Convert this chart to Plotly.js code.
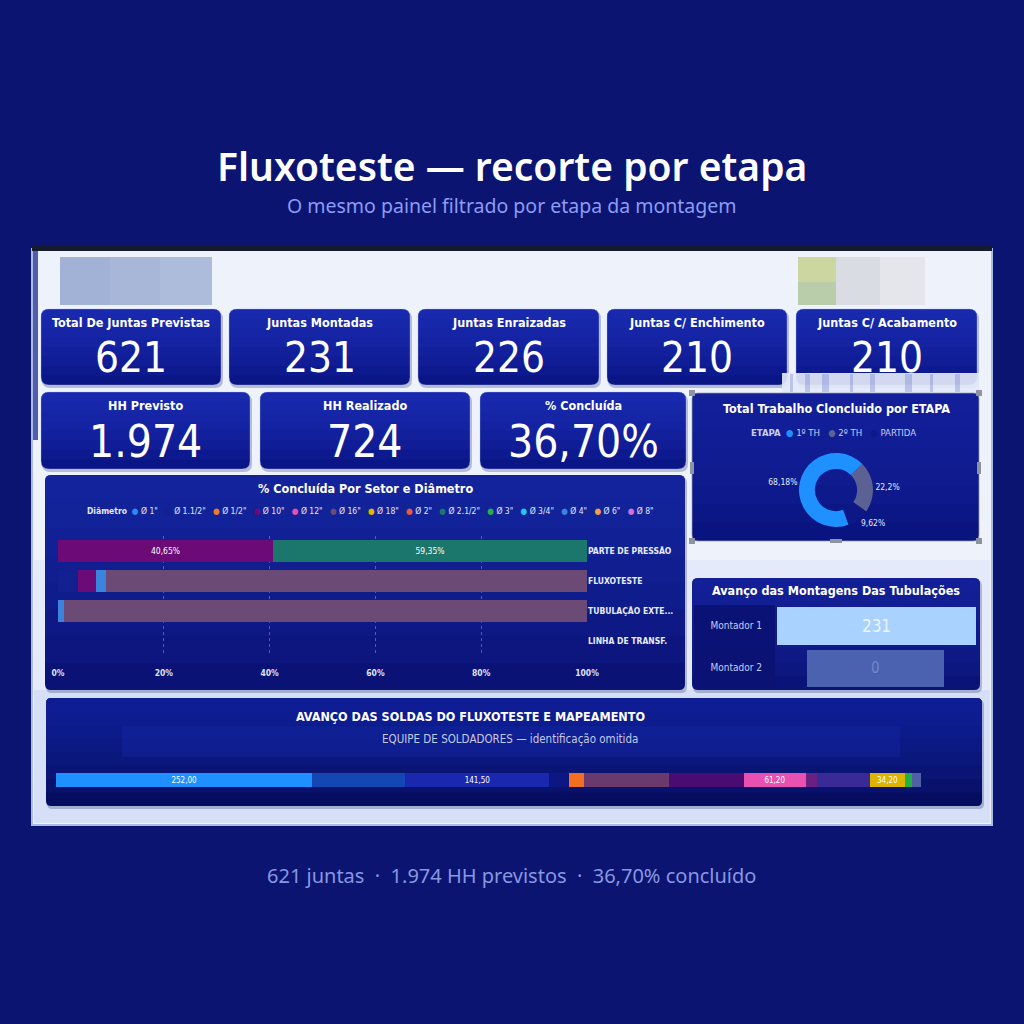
<!DOCTYPE html>
<html><head><meta charset="utf-8">
<script src="https://cdn.plot.ly/plotly-3.0.1.min.js"></script>
<style>html,body{margin:0;padding:0;background:#0c1472;}#chart{width:1024px;height:1024px;}</style>
</head><body><div id="chart"></div>
<script>
// ================= DATA =================
const pageTitle = 'Fluxoteste — recorte por etapa';
const pageSubtitle = 'O mesmo painel filtrado por etapa da montagem';

const kpiRow1Labels = ['Total De Juntas Previstas', 'Juntas Montadas', 'Juntas Enraizadas', 'Juntas C/ Enchimento', 'Juntas C/ Acabamento'];
const kpiRow1Values = ['621', '231', '226', '210', '210'];
const kpiRow2Labels = ['HH Previsto', 'HH Realizado', '% Concluída'];
const kpiRow2Values = ['1.974', '724', '36,70%'];

const donutTitle = 'Total Trabalho Cloncluido por ETAPA';
const etapaLabels = ['1º TH', '2º TH', 'PARTIDA'];
const etapaValues = [68.18, 22.2, 9.62];
const etapaText = ['68,18%', '22,2%', '9,62%'];
const etapaColors = ['#1e90ff', '#5b6192', '#0d1886'];

const barTitle = '% Concluída Por Setor e Diâmetro';
const setores = ['PARTE DE PRESSÃO', 'FLUXOTESTE', 'TUBULAÇÃO EXTE...', 'LINHA DE TRANSF.'];
const setorRotulo = [true, false, false, false];
const diametros = ['Ø 1"', 'Ø 1.1/2"', 'Ø 1/2"', 'Ø 10"', 'Ø 12"', 'Ø 16"', 'Ø 18"', 'Ø 2"', 'Ø 2.1/2"', 'Ø 3"', 'Ø 3/4"', 'Ø 4"', 'Ø 6"', 'Ø 8"'];
const diametroCores = ['#2b8cf0', '#13208f', '#f07a2a', '#6c0a78', '#ea4fb4', '#6b4b76', '#e3b600', '#ea5a3c', '#1b776c', '#28b04a', '#22c6f2', '#3a84e0', '#f4a040', '#d070d8'];
// % concluída por setor (na ordem de setores) para os diâmetros presentes
const pctD_1_1_2 = [0, 3.8, 0, 0];
const pctD_10 = [40.65, 3.4, 0, 0];
const pctD_4 = [0, 1.8, 1.2, 0];
const pctD_2_1_2 = [59.35, 0, 0, 0];
const pctD_16 = [0, 91.0, 98.8, 0];
const barTicks = [0, 20, 40, 60, 80, 100];
const barTickText = ['0%', '20%', '40%', '60%', '80%', '100%'];

const montTitle = 'Avanço das Montagens Das Tubulações';
const montadores = ['Montador 1', 'Montador 2'];
const montadorJuntas = [231, 0];

const soldTitle = 'AVANÇO DAS SOLDAS DO FLUXOTESTE E MAPEAMENTO';
const soldSubtitle = 'EQUIPE DE SOLDADORES — identificação omitida';
const soldadores = ['S01', 'S02', 'S03', 'S04', 'S05', 'S06', 'S07', 'S08', 'S09', 'S10', 'S11', 'S12', 'S13'];
const soldadorHH = [252.0, 91.5, 141.5, 19.7, 13.8, 83.7, 73.8, 61.2, 10.8, 52.2, 34.2, 6.9, 8.9];
const soldadorCores = ['#1e90ff', '#1446b4', '#1a28b0', '#0c1784', '#f07020', '#6a3a6c', '#4a0c72', '#e850b2', '#6a2080', '#3a2a98', '#dcb400', '#22b044', '#5060a4'];
const soldadorRotulo = [true, false, true, false, false, false, false, true, false, false, true, false, false];

// ================= HELPERS =================
const X = p => p / 1024;
const Y = p => 1 - p / 1024;
const DIN = "'Liberation Sans Narrow', 'DejaVu Sans Condensed', Roboto, sans-serif";
const SANS = "'Noto Sans', 'Open Sans', sans-serif";
const fmt2 = v => v.toFixed(2).replace('.', ',');

function rrPath(x0, y0, x1, y1, r) {
  return `M${X(x0 + r)},${Y(y0)} L${X(x1 - r)},${Y(y0)} Q${X(x1)},${Y(y0)} ${X(x1)},${Y(y0 + r)} ` +
    `L${X(x1)},${Y(y1 - r)} Q${X(x1)},${Y(y1)} ${X(x1 - r)},${Y(y1)} L${X(x0 + r)},${Y(y1)} ` +
    `Q${X(x0)},${Y(y1)} ${X(x0)},${Y(y1 - r)} L${X(x0)},${Y(y0 + r)} Q${X(x0)},${Y(y0)} ${X(x0 + r)},${Y(y0)} Z`;
}
function topRoundPath(x0, y0, x1, y1, r) {
  return `M${X(x0 + r)},${Y(y0)} L${X(x1 - r)},${Y(y0)} Q${X(x1)},${Y(y0)} ${X(x1)},${Y(y0 + r)} ` +
    `L${X(x1)},${Y(y1)} L${X(x0)},${Y(y1)} L${X(x0)},${Y(y0 + r)} Q${X(x0)},${Y(y0)} ${X(x0 + r)},${Y(y0)} Z`;
}
const shapes = [];
function rect(x0, y0, x1, y1, fill, opacity, line) {
  shapes.push({type: 'rect', xref: 'paper', yref: 'paper', x0: X(x0), x1: X(x1), y0: Y(y1), y1: Y(y0),
    fillcolor: fill, opacity: opacity == null ? 1 : opacity, line: line || {width: 0}, layer: 'below'});
}
function panel(x0, y0, x1, y1, r, top, bottom, lineColor, shadow) {
  if (shadow) shapes.push({type: 'path', xref: 'paper', yref: 'paper', path: rrPath(x0 + 1, y0 + 2, x1 + 2, y1 + 3, r),
    fillcolor: 'rgba(40,50,110,0.28)', line: {width: 0}, layer: 'below'});
  shapes.push({type: 'path', xref: 'paper', yref: 'paper', path: rrPath(x0, y0, x1, y1, r), fillcolor: bottom,
    line: {width: 0}, layer: 'below'});
  const n = 8;
  for (let k = 1; k < n; k++) {
    shapes.push({type: 'path', xref: 'paper', yref: 'paper', path: topRoundPath(x0, y0, x1, y0 + (y1 - y0) * k / n, r),
      fillcolor: top, opacity: 0.15, line: {width: 0}, layer: 'below'});
  }
  if (lineColor) shapes.push({type: 'path', xref: 'paper', yref: 'paper', path: rrPath(x0, y0, x1, y1, r),
    fillcolor: 'rgba(0,0,0,0)', line: {color: lineColor, width: 1}, layer: 'below'});
}
const annotations = [];
function ann(text, x, y, size, color, extra) {
  const a = Object.assign({text: text, xref: 'paper', yref: 'paper', x: X(x), y: Y(y), showarrow: false,
    xanchor: 'center', yanchor: 'middle', font: {family: DIN, size: size, color: color}}, extra || {});
  if (extra && extra.weight) { a.font.weight = extra.weight; delete a.weight; }
  if (extra && extra.family) { a.font.family = extra.family; delete a.family; }
  annotations.push(a);
}

// ================= BACKGROUND / PANELS =================
rect(32, 249, 992, 825, '#edf2fb', 1, {color: '#a9bbe6', width: 2});
rect(34, 560, 990, 823, '#d3def5', 0.35);
rect(34, 690, 990, 823, '#c4d3f2', 0.45);
rect(32, 246, 992, 251, '#151a2c');
rect(33, 251, 38, 440, '#2a3898', 0.8);
// blurred logos
rect(60, 257, 212, 305, '#a8b7d8');
rect(60, 257, 110, 305, '#9cadd4', 0.5);
rect(160, 257, 212, 305, '#b4c1de', 0.5);
rect(798, 257, 836, 305, '#cbd79f');
rect(798, 282, 836, 305, '#b0c9b0', 0.7);
rect(836, 257, 925, 305, '#d9dce2');
rect(880, 257, 925, 305, '#e7e9ef', 0.8);

const row1Boxes = [[41, 221], [229, 410], [418, 599], [607, 787], [796, 977]];
const row2Boxes = [[41, 250], [260, 470], [480, 686]];
row1Boxes.forEach(b => panel(b[0], 309, b[1], 385, 8, '#2436c2', '#0a1586', 'rgba(170,185,255,0.35)', true));
row2Boxes.forEach(b => panel(b[0], 392, b[1], 469, 8, '#2436c2', '#0a1586', 'rgba(170,185,255,0.35)', true));

// blurred stripe area
rect(782, 373, 979, 393, '#e3e9f8', 0.92);
[790, 805, 822, 850, 870, 905, 930, 955].forEach((s, i) => rect(s, 374, s + 3 + (i % 3) * 2, 392, '#6f7fd0', 0.35));

panel(45, 475, 685, 690, 6, '#1c2db0', '#0a1276', null, true);
panel(692, 393, 979, 541, 6, '#1a2aa8', '#0a1480', 'rgba(150,156,180,0.7)', false);
// selection handles
[[692, 393], [979, 393], [692, 541], [979, 541]].forEach(p => rect(p[0] - 3, p[1] - 3, p[0] + 3, p[1] + 3, '#8e93a2'));
rect(830, 539, 842, 543, '#8e93a2');
rect(690, 462, 694, 474, '#8e93a2');
rect(977, 462, 981, 474, '#8e93a2');
panel(692, 578, 980, 690, 6, '#1a2aa6', '#0a1478', null, true);
rect(694, 605, 775, 688, '#0a1272', 0.9);
rect(807, 650, 944, 687, '#4a62b0');
panel(46, 698, 982, 806, 5, '#1628ac', '#060d60', null, true);
rect(122, 726, 900, 757, '#1727a6', 0.35);

// ================= TEXT =================
ann(pageTitle, 512, 165, 39, '#ffffff', {family: SANS, weight: 600});
ann(pageSubtitle, 512, 205, 19.5, '#8c9cf3', {family: SANS});
row1Boxes.forEach((b, i) => {
  ann(kpiRow1Labels[i], (b[0] + b[1]) / 2, 322, 12.5, '#ffffff', {weight: 'bold'});
  ann(kpiRow1Values[i], (b[0] + b[1]) / 2, 357, 42, '#ffffff', {weight: 500});
});
row2Boxes.forEach((b, i) => {
  ann(kpiRow2Labels[i], (b[0] + b[1]) / 2, 405, 12.5, '#ffffff', {weight: 'bold'});
  ann(kpiRow2Values[i], (b[0] + b[1]) / 2, 441, 44, '#ffffff', {weight: 500});
});
ann(barTitle, 365, 488, 12.5, '#ffffff', {weight: 'bold'});
ann('<b>Diâmetro</b>  ' + diametros.map((d, i) => `<span style="color:${diametroCores[i]}">●</span> ${d}`).join('   '),
  370, 511, 8.5, '#e4e8ff');
ann(donutTitle, 836, 408, 12.5, '#ffffff', {weight: 'bold'});
ann('<b>ETAPA</b>  ' + etapaLabels.map((d, i) => `<span style="color:${etapaColors[i]}">●</span> ${d}`).join('   '),
  833, 432, 9.5, '#c8cff0');
ann(montTitle, 836, 590, 12.5, '#ffffff', {weight: 'bold'});
ann(String(montadorJuntas[1]), 875, 668, 15, '#7088c8');
ann(soldTitle, 470, 716, 12.5, '#ffffff', {weight: 'bold'});
ann(soldSubtitle, 510, 739, 11.5, '#c4cbe6');
ann(`${kpiRow1Values[0]} juntas  ·  ${kpiRow2Values[0]} HH previstos  ·  ${kpiRow2Values[2]} concluído`,
  511, 875, 20, '#8797e0', {family: SANS});

// ================= TRACES =================
const traces = [];
const barStack = [[1, pctD_1_1_2], [3, pctD_10], [11, pctD_4], [8, pctD_2_1_2], [5, pctD_16]];
barStack.forEach(([di, vals]) => {
  traces.push({type: 'bar', orientation: 'h', x: vals, y: setores, xaxis: 'x', yaxis: 'y', name: diametros[di],
    marker: {color: diametroCores[di], line: {width: 0}}, width: 0.74,
    text: vals.map((v, j) => setorRotulo[j] && v > 0 ? fmt2(v) + '%' : ''), texttemplate: '%{text}', textposition: 'inside',
    insidetextanchor: 'middle', textfont: {family: DIN, size: 8.5, color: '#ffffff'},
    constraintext: 'none', hoverinfo: 'skip', showlegend: false});
});
traces.push({type: 'pie', labels: etapaLabels, values: etapaValues, text: etapaText, textinfo: 'text',
  textposition: 'outside', hole: 0.57, sort: false, direction: 'clockwise', rotation: 160,
  marker: {colors: etapaColors, line: {width: 0}}, domain: {x: [X(799), X(873)], y: [Y(527), Y(453)]},
  textfont: {family: DIN, size: 8.5, color: '#e4e8ff'}, showlegend: false, automargin: false, hoverinfo: 'skip'});
traces.push({type: 'bar', orientation: 'h', x: montadorJuntas, y: montadores, xaxis: 'x3', yaxis: 'y3',
  marker: {color: ['#a9d2ff', '#4a62b0'], line: {width: 0}}, width: 0.92,
  text: montadorJuntas.map(v => v > 0 ? String(v) : ''), texttemplate: '%{text}', textposition: 'inside',
  insidetextanchor: 'middle', textfont: {family: DIN, size: 17, color: '#eef4ff'}, hoverinfo: 'skip', showlegend: false});
soldadores.forEach((s, i) => {
  traces.push({type: 'bar', orientation: 'h', x: [soldadorHH[i]], y: ['Soldas'], xaxis: 'x4', yaxis: 'y4', name: s,
    marker: {color: soldadorCores[i], line: {width: 0}}, width: 0.66,
    text: [soldadorRotulo[i] ? fmt2(soldadorHH[i]) : ''], texttemplate: '%{text}', textposition: 'inside',
    insidetextanchor: 'middle', textfont: {family: DIN, size: 8, color: '#ffffff'}, constraintext: 'none',
    hoverinfo: 'skip', showlegend: false});
});
const soldTotal = soldadorHH.reduce((a, b) => a + b, 0);

const layout = {
  width: 1024, height: 1024, margin: {l: 0, r: 0, t: 0, b: 0},
  paper_bgcolor: '#0c1472', plot_bgcolor: 'rgba(0,0,0,0)',
  barmode: 'stack', separators: ',.', showlegend: false,
  xaxis: {domain: [X(58), X(587)], range: [0, 100], tickvals: barTicks, ticktext: barTickText, tickmode: 'array',
    tickfont: {family: DIN, size: 8.5, color: '#dde2ff', weight: 'bold'}, showgrid: true,
    gridcolor: 'rgba(190,200,255,0.38)', griddash: 'dot', gridwidth: 1, zeroline: false, showline: false,
    ticks: '', anchor: 'y', fixedrange: true, ticklabelstandoff: 10},
  yaxis: {domain: [Y(656), Y(536)], type: 'category', categoryarray: setores, autorange: 'reversed', side: 'right',
    tickfont: {family: DIN, size: 8.5, color: '#e8ecff', weight: 'bold'}, showgrid: false, zeroline: false,
    ticks: '', anchor: 'x', fixedrange: true},
  xaxis3: {domain: [X(777), X(976)], range: [0, Math.max(...montadorJuntas)], visible: false, anchor: 'y3', fixedrange: true},
  yaxis3: {domain: [Y(688), Y(605)], type: 'category', categoryarray: montadores, autorange: 'reversed',
    tickfont: {family: DIN, size: 10, color: '#c6cdf0'}, showgrid: false, zeroline: false, ticks: '',
    anchor: 'x3', fixedrange: true, ticklabelstandoff: 14},
  xaxis4: {domain: [X(56), X(921)], range: [0, soldTotal], visible: false, anchor: 'y4', fixedrange: true},
  yaxis4: {domain: [Y(790), Y(770)], type: 'category', visible: false, anchor: 'x4', fixedrange: true},
  shapes: shapes, annotations: annotations
};
Plotly.newPlot('chart', traces, layout, {displayModeBar: false, staticPlot: true});
</script>
</body></html>
